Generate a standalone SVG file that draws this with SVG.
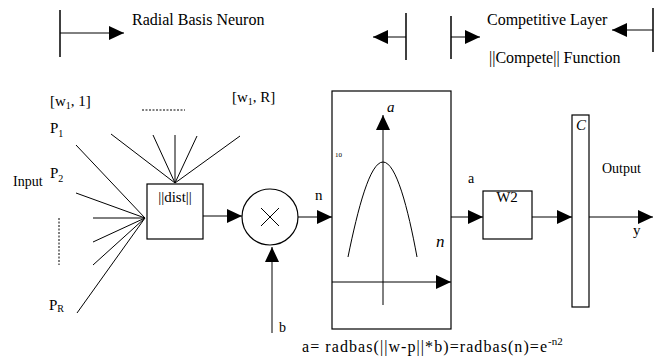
<svg xmlns="http://www.w3.org/2000/svg" width="661" height="359" viewBox="0 0 661 359" font-family="'Liberation Serif', 'DejaVu Serif', serif">
<defs>
<marker id="ah" markerUnits="userSpaceOnUse" markerWidth="16" markerHeight="15" refX="15" refY="7" orient="auto" viewBox="0 0 16 15">
<path d="M0,0 L15,7 L0,14 Z" fill="#000"/>
</marker>
<style>
text{fill:#000}
.t16{font-size:16px}
.t15{font-size:15px}
.t14{font-size:14px}
.sub{font-size:10px}
.it{font-style:italic}
.ln{stroke:#000;stroke-width:1;fill:none}
.arr{stroke:#000;stroke-width:1;fill:none;marker-end:url(#ah)}
.box{stroke:#000;stroke-width:1.2;fill:#fff}
.bar{stroke:#000;stroke-width:1.5}
</style>
</defs>
<rect width="661" height="359" fill="#fff"/>

<g id="legend">
<line class="bar" x1="60" y1="10" x2="60" y2="57"/>
<line class="arr" x1="60" y1="33" x2="124" y2="33"/>
<text class="t16" x="132" y="25">Radial Basis Neuron</text>
<line class="bar" x1="406" y1="13" x2="406" y2="60"/>
<line class="arr" x1="406" y1="37" x2="373" y2="37"/>
<line class="bar" x1="451" y1="16" x2="451" y2="59"/>
<line class="arr" x1="451" y1="37" x2="480" y2="37"/>
<text class="t16" x="487" y="25">Competitive Layer</text>
<line class="bar" x1="653" y1="8" x2="653" y2="52"/>
<line class="arr" x1="653" y1="30" x2="612" y2="30"/>
<text class="t16" x="489" y="63">||Compete|| Function</text>
</g>

<g id="inputs">
<text class="t15" x="50" y="106">[w<tspan class="sub" dy="3">1</tspan><tspan dy="-3">, 1]</tspan></text>
<text class="t15" x="232" y="102">[w<tspan class="sub" dy="3">1</tspan><tspan dy="-3">, R]</tspan></text>
<line class="ln" x1="142" y1="110" x2="185" y2="110" stroke-dasharray="2,1.5"/>
<text class="t15" x="50" y="133">P<tspan class="sub" dy="4">1</tspan></text>
<text class="t14" x="13" y="186">Input</text>
<text class="t15" x="50" y="178">P<tspan class="sub" dy="4">2</tspan></text>
<line class="ln" x1="59" y1="218" x2="59" y2="265" stroke-dasharray="2,1.5"/>
<text class="t15" x="49" y="310">P<tspan class="sub" dy="2">R</tspan></text>
</g>

<g id="connectors">
<line class="ln" x1="111" y1="134" x2="175" y2="183"/>
<line class="ln" x1="153" y1="135" x2="175" y2="183"/>
<line class="ln" x1="175" y1="135" x2="175" y2="183"/>
<line class="ln" x1="197" y1="136" x2="175" y2="183"/>
<line class="ln" x1="240" y1="136" x2="175" y2="183"/>
<line class="ln" x1="76" y1="145" x2="145" y2="218"/>
<line class="ln" x1="76" y1="193" x2="145" y2="218"/>
<line class="ln" x1="93" y1="218" x2="145" y2="218"/>
<line class="ln" x1="93" y1="242" x2="145" y2="218"/>
<line class="ln" x1="93" y1="265" x2="145" y2="218"/>
<line class="ln" x1="77" y1="313" x2="145" y2="218"/>
<line class="arr" x1="203" y1="216" x2="242" y2="216"/>
<line class="arr" x1="272" y1="333" x2="272" y2="247"/>
<line class="arr" x1="298" y1="217" x2="332" y2="217"/>
<line class="arr" x1="451" y1="217" x2="483" y2="217"/>
<line class="arr" x1="532" y1="217" x2="572" y2="217"/>
<line class="arr" x1="589" y1="217" x2="653" y2="217"/>
</g>

<g id="dist">
<rect class="box" x="147" y="184" width="56" height="55"/>
<text class="t15" x="175" y="202" text-anchor="middle">||dist||</text>
</g>

<g id="multiply">
<circle class="box" cx="270" cy="217" r="28"/>
<line class="ln" x1="261" y1="208" x2="279" y2="226" stroke-width="1.6"/>
<line class="ln" x1="279" y1="208" x2="261" y2="226" stroke-width="1.6"/>
<text class="t14" x="279" y="332">b</text>
<text class="t15" x="315" y="200">n</text>
</g>

<g id="radbas">
<rect class="box" x="332" y="91" width="119" height="238"/>
<text x="335" y="157" style="font-size:7px">10</text>
<line class="arr" x1="383" y1="305" x2="383" y2="115" stroke="#444"/>
<line class="arr" x1="332" y1="282" x2="451" y2="282"/>
<path class="ln" d="M348,257 C358,208 370,162 383,162 C396,162 408,208 417,257"/>
<text class="t15 it" x="387" y="112">a</text>
<text class="it" x="436" y="247" style="font-size:17px">n</text>
<text class="t14" x="468" y="183">a</text>
</g>

<g id="w2">
<rect class="box" x="483" y="191" width="49" height="48"/>
<text class="t15" x="507" y="202" text-anchor="middle">W2</text>
</g>

<g id="compete">
<rect class="box" x="572" y="115" width="17" height="192"/>
<text class="t15 it" x="576" y="130">C</text>
<text class="t14" x="602" y="173">Output</text>
<text class="t15" x="633" y="235">y</text>
</g>

<text class="t16" x="302" y="352" textLength="245" lengthAdjust="spacing">a= radbas(||w-p||*b)=radbas(n)=e</text>
<text x="548" y="345" style="font-size:11px">-n2</text>
</svg>
